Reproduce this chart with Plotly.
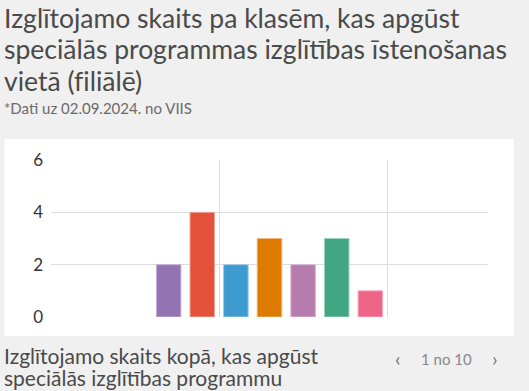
import plotly.graph_objects as go

# Data
categories = ["1", "2", "3", "4", "5", "6", "7"]
values = [2, 4, 2, 3, 2, 3, 1]
bar_colors = ["#9573b3", "#e4513a", "#3d9bd0", "#dd7a00", "#b77cae", "#41a783", "#ef6588"]
line_colors = ["#c4b2d6", "#f0a597", "#9ecbe6", "#ecb77a", "#d8b5d2", "#9dd3bf", "#f5a9bd"]
x_positions = [3.5, 4.5, 5.5, 6.5, 7.5, 8.5, 9.5]
y_ticks = [0, 2, 4, 6]

W, H = 529, 391
L, R, T, B = 50.6, 488.5, 160.4, 317.2

def px(x):
    return (x - L) / (R - L)

def py(y):
    return (B - y) / (B - T)

fig = go.Figure()
fig.add_trace(go.Bar(
    x=x_positions, y=values, width=0.73,
    marker=dict(color=bar_colors, line=dict(color=line_colors, width=1)),
    text=categories, textposition="none", hoverinfo="y",
))

FONT = "Lato"
fig.update_layout(
    width=W, height=H,
    margin=dict(l=L, r=W - R, t=T, b=H - B, pad=0),
    paper_bgcolor="#f0f0f0", plot_bgcolor="white",
    showlegend=False,
    font=dict(family=FONT, color="#4c4c4c"),
    xaxis=dict(range=[0, 13], tickvals=[0, 5, 10], showticklabels=False,
               showgrid=True, gridcolor="#dcdcdc", gridwidth=1, zeroline=False,
               ticks="", fixedrange=True),
    yaxis=dict(range=[0, 6], tickvals=y_ticks, showgrid=True, gridcolor="#dcdcdc",
               gridwidth=1, zeroline=False, ticks="", ticklabelstandoff=7,
               tickfont=dict(size=17, color="#333333"), fixedrange=True),
)

# White panel behind plot
fig.add_shape(type="rect", xref="paper", yref="paper", layer="below",
              x0=px(4), x1=px(514.5), y0=py(336.5), y1=py(139.4),
              fillcolor="white", line=dict(width=0))

def ann(text, x, y, size, color, xanchor="left"):
    fig.add_annotation(text=text, xref="paper", yref="paper", x=px(x), y=py(y),
                       xanchor=xanchor, yanchor="middle", showarrow=False,
                       font=dict(size=size, color=color, family=FONT))

title_lines = ["Izglītojamo skaits pa klasēm, kas apgūst",
               "speciālās programmas izglītības īstenošanas",
               "vietā (f\u200ciliālē)"]
for i, t in enumerate(title_lines):
    ann(t, 2, 18.5 + i * 31.5, 26.5, "#4a4a4a")
ann("*Dati uz 02.09.2024. no VIIS", 2, 108, 15, "#6a6a6a")
ann("Izglītojamo skaits kopā, kas apgūst", 2, 355.5, 21, "#4a4a4a")
ann("speciālās izglītības programmu", 2, 377.5, 21, "#4a4a4a")
ann("‹", 398, 358, 20, "#777777", "center")
ann("1 no 10", 447, 359, 15, "#888888", "center")
ann("›", 496, 358, 20, "#777777", "center")

fig.write_html("out.html", config={"displayModeBar": False},
               post_script="document.body.style.margin='0';document.body.style.padding='0';")
